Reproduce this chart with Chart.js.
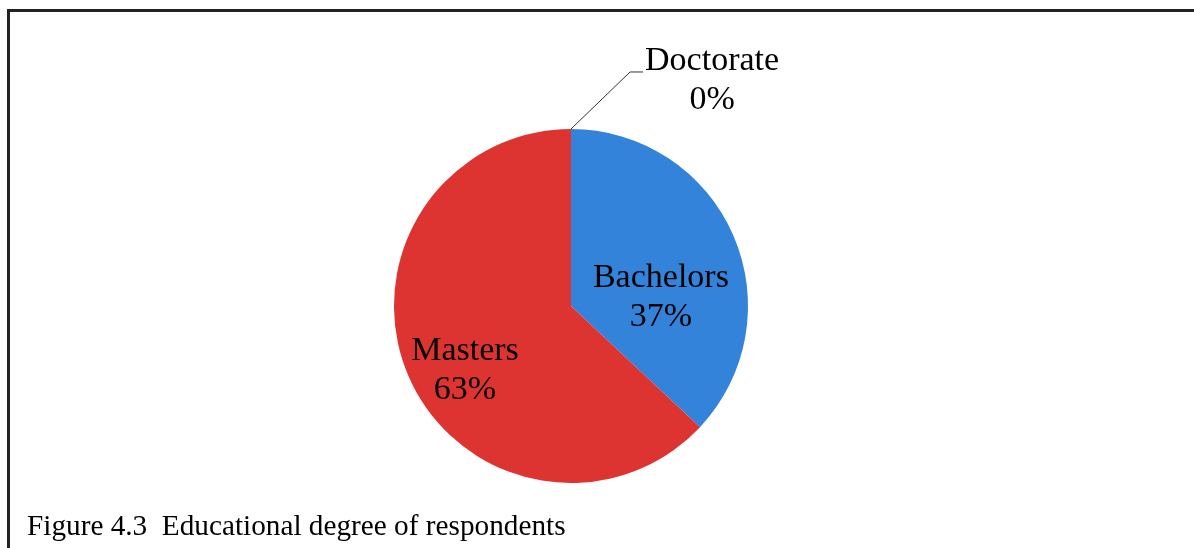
<!DOCTYPE html>
<html>
<head>
<meta charset="utf-8">
<script src="https://cdn.jsdelivr.net/npm/chart.js@4.4.0/dist/chart.umd.min.js"></script>
<style>
html, body { margin: 0; padding: 0; background: #fff; }
#wrap { position: relative; width: 1194px; height: 548px; overflow: hidden; }
#frame { position: absolute; left: 7px; top: 9px; width: 1300px; height: 700px;
         border-left: 3px solid #222; border-top: 3px solid #222; }
#chart1 { position: absolute; left: 0; top: 0; }
#probe { position: absolute; left: -9999px; font: 30px "Liberation Serif"; }
</style>
</head>
<body>
<div id="wrap">
<div id="frame"></div>
<canvas id="chart1" width="1194" height="548"></canvas>
</div>
<span id="probe">Bachelors 37%</span>
<script>
var labels = ["Bachelors", "Masters", "Doctorate"];
var values = [37, 63, 0];
var colors = ['#3483DB', '#DE3431', '#9BBB59'];
var caption = "Figure 4.3  Educational degree of respondents";

// label block centres, as fractions of the pie radius from its centre
var labelPos = [[0.508, -0.051], [-0.599, 0.362], [0.797, -1.277]];

var labelFont = '34px "Liberation Serif", "Times New Roman", Times, serif';
var captionFont = '30px "Liberation Serif", "Times New Roman", Times, serif';

function drawText(ctx, text, x, y, align, stretch) {
    ctx.save();
    ctx.translate(x, y);
    ctx.scale(stretch, 1);
    ctx.textAlign = align;
    ctx.fillText(text, 0, 0);
    ctx.restore();
}

var pieLabels = {
    id: 'pieLabels',
    afterDraw: function (chart) {
        var ctx = chart.ctx;
        var meta = chart.getDatasetMeta(0);
        var total = values.reduce(function (a, b) { return a + b; }, 0);
        ctx.save();
        ctx.font = labelFont;
        ctx.fillStyle = '#000';
        meta.data.forEach(function (arc, i) {
            var p = arc.getProps(['x', 'y', 'outerRadius', 'startAngle']);
            var r = p.outerRadius;
            var cx = p.x + labelPos[i][0] * r;
            var cy = p.y + labelPos[i][1] * r;
            var pct = Math.round(values[i] / total * 100) + '%';
            drawText(ctx, labels[i], cx, cy - 10, 'center', 1);
            drawText(ctx, pct, cx, cy + 29, 'center', 1);
            if (values[i] === 0) {
                // leader line from the slice edge to the label
                var w = ctx.measureText(labels[i]).width;
                var sx = p.x + Math.cos(p.startAngle) * r;
                var sy = p.y + Math.sin(p.startAngle) * r;
                var ey = cy - 8;
                var ex = cx - w / 2 - 2;
                ctx.beginPath();
                ctx.strokeStyle = '#333';
                ctx.lineWidth = 1;
                ctx.moveTo(sx, sy);
                ctx.lineTo(ex - 13, ey);
                ctx.lineTo(ex, ey);
                ctx.stroke();
            }
        });
        ctx.font = captionFont;
        drawText(ctx, caption, 27, 535, 'left', 0.975);
        ctx.restore();
    }
};

function makeChart() {
    var ctx = document.getElementById("chart1").getContext('2d');
    var chart1 = new Chart(ctx, {
        type: 'pie',
        data: {
            labels: labels,
            datasets: [{
                data: values,
                backgroundColor: colors,
                borderWidth: 0
            }]
        },
        options: {
            responsive: false,
            animation: false,
            layout: { padding: { left: 200, right: 252, top: 129, bottom: 65 } },
            plugins: {
                legend: { display: false },
                tooltip: { enabled: false }
            }
        },
        plugins: [pieLabels]
    });
}

if (document.fonts && document.fonts.load) {
    document.fonts.load('30px "Liberation Serif"').then(makeChart, makeChart);
} else {
    makeChart();
}
</script>
</body>
</html>
